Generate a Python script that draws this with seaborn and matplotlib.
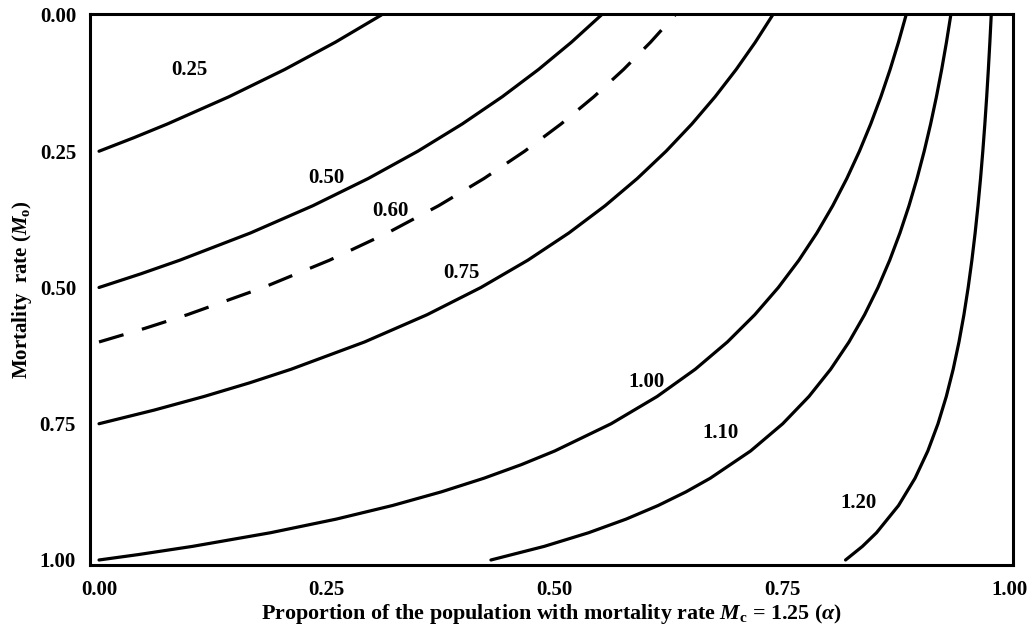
import matplotlib
matplotlib.use("Agg")
import matplotlib.pyplot as plt
import seaborn as sns
import pandas as pd

# Iso-lines of overall mortality: (alpha, M_o) points along each level
alpha_025 = [0.31002, 0.25940, 0.20383, 0.14265, 0.07503, 0.03851, 0.0]
m0_025 = [0.0, 0.05, 0.10, 0.15, 0.20, 0.225, 0.25]

alpha_050 = [0.55147, 0.51856, 0.48244, 0.44266, 0.39870, 0.34993, 0.29558,
             0.23472, 0.16620, 0.08856, 0.04578, 0.0]
m0_050 = [0.0, 0.05, 0.10, 0.15, 0.20, 0.25, 0.30, 0.35, 0.40, 0.45, 0.475, 0.50]

# dashed level, listed from the left edge upward
alpha_060 = [0.0, 0.05030, 0.09688, 0.18036, 0.25295, 0.31658, 0.37274,
             0.42263, 0.46718, 0.50715, 0.54318, 0.57578, 0.60539, 0.63236]
m0_060 = [0.60, 0.575, 0.55, 0.50, 0.45, 0.40, 0.35, 0.30, 0.25, 0.20,
          0.15, 0.10, 0.05, 0.0]

alpha_075 = [0.73951, 0.72039, 0.69941, 0.67631, 0.65079, 0.62246, 0.59089,
             0.55555, 0.51575, 0.47066, 0.41923, 0.36008, 0.29143, 0.21091,
             0.16523, 0.11528, 0.06045, 0.0]
m0_075 = [0.0, 0.05, 0.10, 0.15, 0.20, 0.25, 0.30, 0.35, 0.40, 0.45, 0.50,
          0.55, 0.60, 0.65, 0.675, 0.70, 0.725, 0.75]

alpha_100 = [0.88595, 0.87758, 0.86840, 0.85828, 0.84711, 0.83471, 0.82089,
             0.80541, 0.78799, 0.76825, 0.74573, 0.71983, 0.68977, 0.65452,
             0.61265, 0.56218, 0.50023, 0.46369, 0.42251, 0.37576, 0.32225,
             0.26041, 0.18818, 0.10269, 0.04347, 0.0]
m0_100 = [0.0, 0.05, 0.10, 0.15, 0.20, 0.25, 0.30, 0.35, 0.40, 0.45, 0.50,
          0.55, 0.60, 0.65, 0.70, 0.75, 0.80, 0.825, 0.85, 0.875, 0.90,
          0.925, 0.95, 0.975, 0.99, 1.0]

alpha_110 = [0.93502, 0.93025, 0.92501, 0.91925, 0.91288, 0.90582, 0.89794,
             0.88913, 0.87920, 0.86795, 0.85512, 0.84036, 0.82324, 0.80315,
             0.77929, 0.75053, 0.71524, 0.67095, 0.64432, 0.61383, 0.57859,
             0.53743, 0.48873, 0.43021]
m0_110 = [0.0, 0.05, 0.10, 0.15, 0.20, 0.25, 0.30, 0.35, 0.40, 0.45, 0.50,
          0.55, 0.60, 0.65, 0.70, 0.75, 0.80, 0.85, 0.875, 0.90, 0.925,
          0.95, 0.975, 1.0]

alpha_120 = [0.97941, 0.97790, 0.97624, 0.97442, 0.97240, 0.97016, 0.96767,
             0.96487, 0.96173, 0.95817, 0.95410, 0.94943, 0.94400, 0.93764,
             0.93008, 0.92097, 0.90979, 0.89576, 0.87766, 0.85346, 0.83803,
             0.81949]
m0_120 = [0.0, 0.05, 0.10, 0.15, 0.20, 0.25, 0.30, 0.35, 0.40, 0.45, 0.50,
          0.55, 0.60, 0.65, 0.70, 0.75, 0.80, 0.85, 0.90, 0.95, 0.975, 1.0]

level_labels = ["0.25", "0.50", "0.60", "0.75", "1.00", "1.10", "1.20"]
label_x = [0.099, 0.250, 0.320, 0.398, 0.601, 0.682, 0.834]
label_y = [0.101, 0.299, 0.360, 0.473, 0.673, 0.767, 0.895]

tick_values = [0.0, 0.25, 0.50, 0.75, 1.0]
tick_labels = ["0.00", "0.25", "0.50", "0.75", "1.00"]

curves = [
    ("0.25", alpha_025, m0_025),
    ("0.50", alpha_050, m0_050),
    ("0.60", alpha_060, m0_060),
    ("0.75", alpha_075, m0_075),
    ("1.00", alpha_100, m0_100),
    ("1.10", alpha_110, m0_110),
    ("1.20", alpha_120, m0_120),
]

FS = 15

sns.set_theme(style="white")
plt.rcParams["font.family"] = ["Liberation Serif", "DejaVu Serif"]
plt.rcParams["font.weight"] = "bold"
plt.rcParams["mathtext.fontset"] = "custom"
plt.rcParams["mathtext.rm"] = "Liberation Serif:bold"
plt.rcParams["mathtext.it"] = "Liberation Serif:italic:bold"
plt.rcParams["mathtext.bf"] = "Liberation Serif:bold"

fig = plt.figure(figsize=(10.34, 6.27), dpi=100)
ax = fig.add_axes([90 / 1034, 62 / 627, 923 / 1034, 551 / 627])

for level, xs, ys in curves:
    df = pd.DataFrame({"alpha": xs, "m0": ys})
    sns.lineplot(data=df, x="alpha", y="m0", ax=ax, color="black",
                 linewidth=2.3, sort=False, estimator=None)
    if level == "0.60":
        ax.lines[-1].set_dashes((8, 6))

for txt, lx, ly in zip(level_labels, label_x, label_y):
    ax.text(lx, ly, txt, ha="center", va="center", fontsize=FS,
            fontweight="bold", color="black")

ax.set_xlim(-0.0099, 1.0033)
ax.set_ylim(1.0092, -0.0018)
ax.set_xticks(tick_values)
ax.set_xticklabels(tick_labels)
ax.set_yticks(tick_values)
ax.set_yticklabels(tick_labels)
ax.tick_params(axis="both", direction="in", length=4, width=0.8,
               color="black", labelsize=FS, labelcolor="black")
ax.tick_params(axis="x", pad=11)
ax.tick_params(axis="y", pad=10)
for lab in ax.get_xticklabels() + ax.get_yticklabels():
    lab.set_fontweight("bold")

for sp in ax.spines.values():
    sp.set_color("black")
    sp.set_linewidth(2.2)

ax.set_xlabel(r"Proportion of the population with mortality rate $M_{\mathrm{c}}$ = 1.25 ($\alpha$)",
              fontsize=15.8, fontweight="bold", color="black", labelpad=1)
ax.set_ylabel(r"Mortality  rate ($M_{\mathrm{o}}$)",
              fontsize=FS, fontweight="bold", color="black", labelpad=4)
ax.grid(False)

fig.savefig("out.png", dpi=100, facecolor="white")
